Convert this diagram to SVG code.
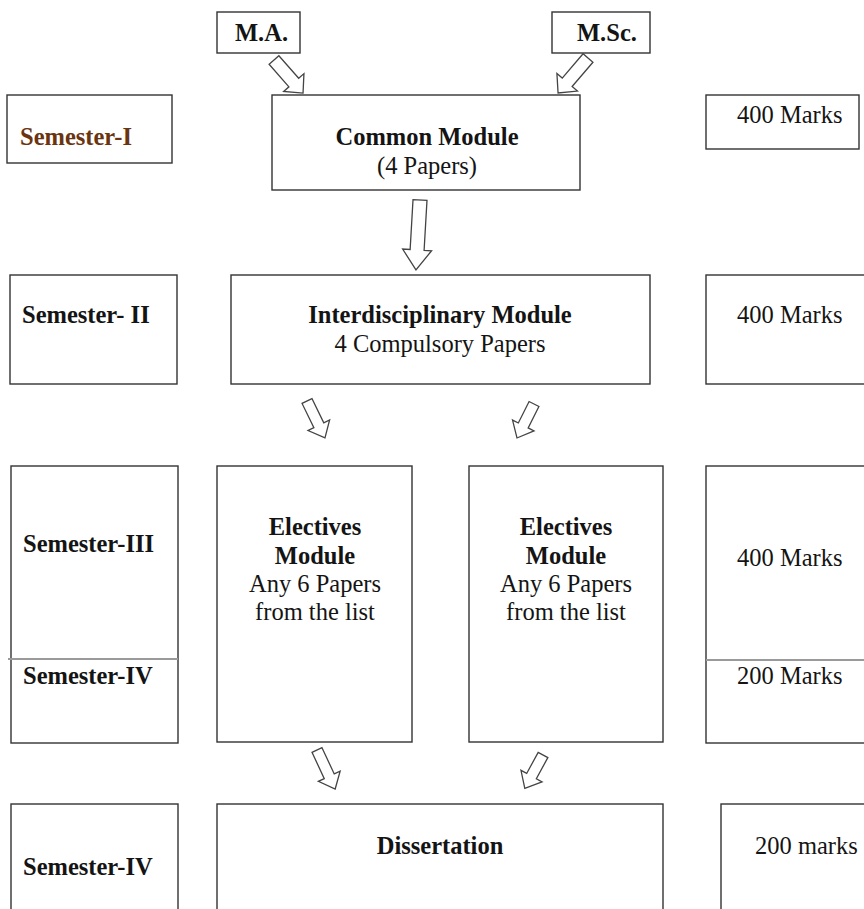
<svg xmlns="http://www.w3.org/2000/svg" width="864" height="909" viewBox="0 0 864 909">
<style>
.box{fill:#fff;stroke:#333;stroke-width:1.4}
.t{font-family:"Liberation Serif","Times New Roman",serif;font-size:24.5px;fill:#141414}
.b{font-weight:bold}
.c{text-anchor:middle}
.div{stroke:#9a9a9a;stroke-width:2}
.arr{fill:#fff;stroke:#444;stroke-width:1.3;stroke-linejoin:miter}
</style>
<rect width="864" height="909" fill="#fff"/>
<g id="ma"><rect class="box" x="217" y="12" width="83" height="41"/><text class="t b" x="235" y="41">M.A.</text></g>
<g id="msc"><rect class="box" x="552" y="12" width="98" height="41"/><text class="t b" x="577" y="41">M.Sc.</text></g>
<g id="sem1"><rect class="box" x="7" y="95" width="165" height="68"/><text class="t b" x="20" y="145" style="fill:#6b3410">Semester-I</text></g>
<g id="common"><rect class="box" x="272" y="95" width="308" height="95"/><text class="t b c" x="427" y="145">Common Module</text><text class="t c" x="427" y="174">(4 Papers)</text></g>
<g id="marks1"><rect class="box" x="706" y="95" width="153" height="54"/><text class="t" x="737" y="123">400 Marks</text></g>
<g id="sem2"><rect class="box" x="10" y="275" width="167" height="109"/><text class="t b" x="22" y="323">Semester- II</text></g>
<g id="inter"><rect class="box" x="231" y="275" width="419" height="109"/><text class="t b c" x="440" y="323">Interdisciplinary Module</text><text class="t c" x="440" y="352">4 Compulsory Papers</text></g>
<g id="marks2"><rect class="box" x="706" y="275" width="200" height="109"/><text class="t" x="737" y="323">400 Marks</text></g>
<g id="sem34"><rect class="box" x="11" y="466" width="167" height="277"/><line class="div" x1="8" y1="659" x2="178" y2="659"/><text class="t b" x="23" y="552">Semester-III</text><text class="t b" x="23" y="684">Semester-IV</text></g>
<g id="elec1"><rect class="box" x="217" y="466" width="195" height="276"/><text class="t b c" x="315" y="535">Electives</text><text class="t b c" x="315" y="564">Module</text><text class="t c" x="315" y="592">Any 6 Papers</text><text class="t c" x="315" y="620">from the list</text></g>
<g id="elec2"><rect class="box" x="469" y="466" width="194" height="276"/><text class="t b c" x="566" y="535">Electives</text><text class="t b c" x="566" y="564">Module</text><text class="t c" x="566" y="592">Any 6 Papers</text><text class="t c" x="566" y="620">from the list</text></g>
<g id="marks34"><rect class="box" x="706" y="466" width="200" height="277"/><line class="div" x1="706" y1="660" x2="864" y2="660"/><text class="t" x="737" y="566">400 Marks</text><text class="t" x="737" y="684">200 Marks</text></g>
<g id="sem4"><rect class="box" x="11" y="804" width="167" height="120"/><text class="t b" x="23" y="875">Semester-IV</text></g>
<g id="diss"><rect class="box" x="217" y="804" width="446" height="120"/><text class="t b c" x="440" y="854">Dissertation</text></g>
<g id="marks4"><rect class="box" x="721" y="804" width="200" height="120"/><text class="t" x="755" y="854">200 marks</text></g>
<g id="connectors">
<path class="arr" transform="translate(274,60) rotate(48.7)" d="M0,-6.5 L30,-6.5 L30,-13.5 L44,0 L30,13.5 L30,6.5 L0,6.5 Z"/>
<path class="arr" transform="translate(588,58) rotate(130.6)" d="M0,-6.5 L32,-6.5 L32,-13.5 L46,0 L32,13.5 L32,6.5 L0,6.5 Z"/>
<path class="arr" transform="translate(420,200) rotate(93.3)" d="M0,-7 L50,-7 L50,-14.5 L70,0 L50,14.5 L50,7 L0,7 Z"/>
<path class="arr" transform="translate(307,401) rotate(64)" d="M0,-5.5 L27,-5.5 L27,-12 L41,0 L27,12 L27,5.5 L0,5.5 Z"/>
<path class="arr" transform="translate(534,404) rotate(116.6)" d="M0,-5.5 L24,-5.5 L24,-12 L38,0 L24,12 L24,5.5 L0,5.5 Z"/>
<path class="arr" transform="translate(317,750) rotate(65)" d="M0,-5.5 L29,-5.5 L29,-12 L43,0 L29,12 L29,5.5 L0,5.5 Z"/>
<path class="arr" transform="translate(543,755) rotate(118.6)" d="M0,-5.5 L24,-5.5 L24,-12 L38,0 L24,12 L24,5.5 L0,5.5 Z"/>
</g>
</svg>
